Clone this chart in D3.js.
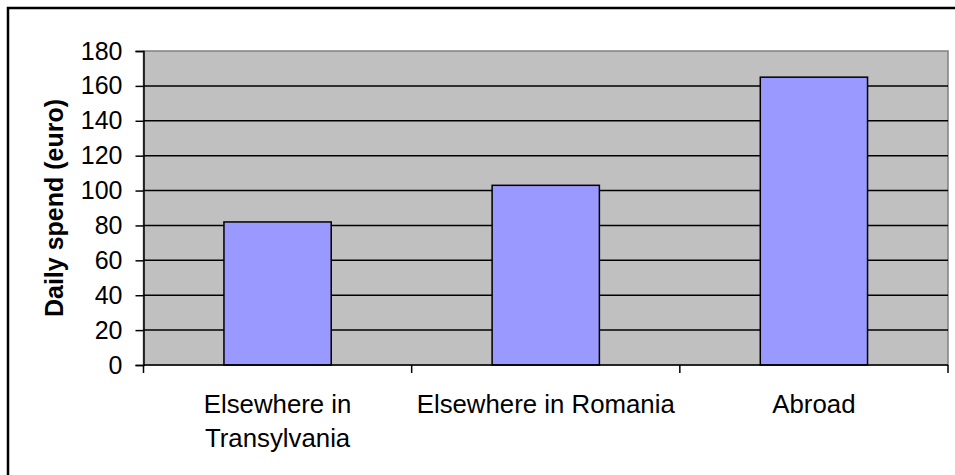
<!DOCTYPE html>
<html>
<head>
<meta charset="utf-8">
<script src="https://cdn.jsdelivr.net/npm/d3@7"></script>
<style>
  html, body { margin: 0; padding: 0; background: #ffffff; }
  svg { display: block; }
  text { font-family: "Liberation Sans", Arial, sans-serif; fill: #000; }
</style>
</head>
<body>
<svg id="chart" width="955" height="475"></svg>
<script>
// Daily spend by destination
const categories = [["Elsewhere in", "Transylvania"], ["Elsewhere in Romania"], ["Abroad"]];
const values = [82, 103, 165];
const yTicks = [0, 20, 40, 60, 80, 100, 120, 140, 160, 180];
const yTitle = "Daily spend (euro)";

const W = 955, H = 475;
const plot = { left: 143.5, right: 948, top: 51, bottom: 365 };

const svg = d3.select("#chart");

// outer frame (left and top edges)
svg.append("path")
  .attr("d", `M8,${H} L8,8 L${W},8`)
  .attr("fill", "none")
  .attr("stroke", "#000")
  .attr("stroke-width", 2.5);

const keys = categories.map(c => c.join(" "));
const x = d3.scaleBand().domain(keys).range([plot.left, plot.right])
  .paddingInner(0.6).paddingOuter(0.3);
const y = d3.scaleLinear().domain([0, 180]).range([plot.bottom, plot.top]);

// plot background
svg.append("rect")
  .attr("x", plot.left).attr("y", plot.top)
  .attr("width", plot.right - plot.left).attr("height", plot.bottom - plot.top)
  .attr("fill", "#c0c0c0")
  .attr("stroke", "#808080").attr("stroke-width", 1.5);

// horizontal gridlines
svg.append("g").selectAll("line")
  .data(yTicks.filter(t => t > 0 && t < 180))
  .join("line")
  .attr("x1", plot.left).attr("x2", plot.right)
  .attr("y1", d => y(d)).attr("y2", d => y(d))
  .attr("stroke", "#000").attr("stroke-width", 1.5);

// bars
svg.append("g").selectAll("rect")
  .data(values)
  .join("rect")
  .attr("x", (d, i) => x(keys[i]))
  .attr("y", d => y(d))
  .attr("width", x.bandwidth())
  .attr("height", d => y(0) - y(d))
  .attr("fill", "#9999ff")
  .attr("stroke", "#000").attr("stroke-width", 1.5);

// y axis
const yAxis = d3.axisLeft(y).tickValues(yTicks).tickSize(8).tickPadding(13);
const gy = svg.append("g").attr("transform", `translate(${plot.left},0)`).call(yAxis);
gy.select(".domain").attr("stroke", "#000").attr("stroke-width", 1.5);
gy.selectAll(".tick line").attr("stroke", "#000").attr("stroke-width", 1.5);
gy.selectAll(".tick text")
  .style("font-family", "'Liberation Sans', Arial, sans-serif")
  .style("font-size", "25px").attr("fill", "#000");

// x axis with ticks at category boundaries
const gx = svg.append("g").attr("transform", `translate(0,${plot.bottom})`);
gx.append("line")
  .attr("x1", plot.left).attr("x2", plot.right)
  .attr("stroke", "#000").attr("stroke-width", 1.5);
const step = x.step();
const boundaries = d3.range(keys.length + 1).map(i => plot.left + i * step);
gx.selectAll("line.tk")
  .data(boundaries)
  .join("line").attr("class", "tk")
  .attr("x1", d => d).attr("x2", d => d)
  .attr("y1", 0).attr("y2", 8)
  .attr("stroke", "#000").attr("stroke-width", 1.5);

// category labels
const lbl = svg.append("g").selectAll("text")
  .data(categories)
  .join("text")
  .attr("x", (d, i) => x(keys[i]) + x.bandwidth() / 2)
  .attr("y", 413)
  .attr("text-anchor", "middle")
  .style("font-size", "25.8px");
lbl.selectAll("tspan")
  .data(d => d)
  .join("tspan")
  .attr("x", function () { return d3.select(this.parentNode).attr("x"); })
  .attr("dy", (d, i) => i === 0 ? 0 : 34)
  .text(d => d);

// y axis title
svg.append("text")
  .attr("transform", `translate(63,${(plot.top + plot.bottom) / 2}) rotate(-90)`)
  .attr("text-anchor", "middle")
  .style("font-size", "25px")
  .style("font-weight", "bold")
  .text(yTitle);
</script>
</body>
</html>
